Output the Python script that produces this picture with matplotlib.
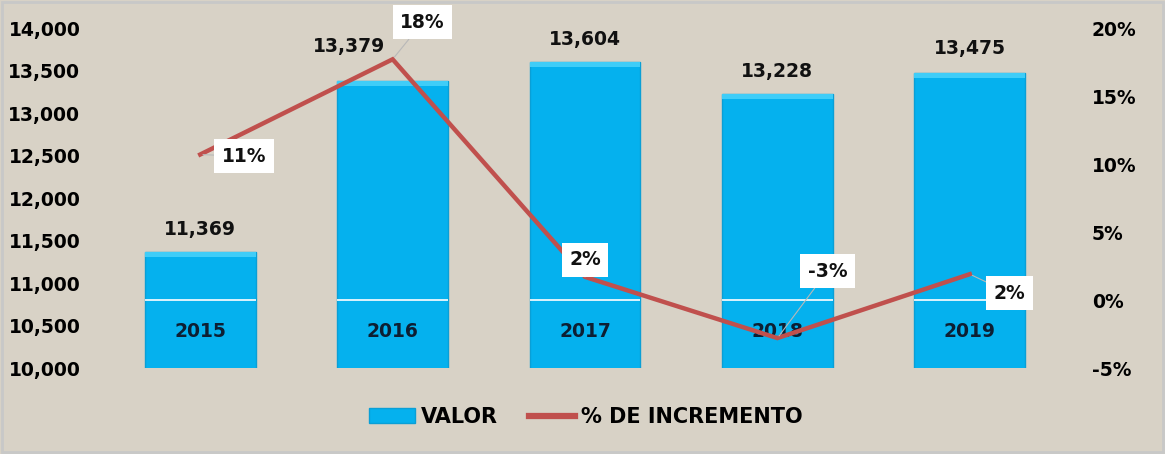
import matplotlib
matplotlib.use("Agg")
import matplotlib.pyplot as plt
from matplotlib.patches import Rectangle, Patch
from matplotlib.lines import Line2D
from matplotlib.ticker import FuncFormatter, MultipleLocator
import matplotlib.transforms as mtransforms

# ---- data ----
years = ["2015", "2016", "2017", "2018", "2019"]
valor = [11369, 13379, 13604, 13228, 13475]
incremento = [0.107, 0.177, 0.017, -0.028, 0.019]
legend_labels = ["VALOR", "% DE INCREMENTO"]

# ---- style ----
BG = "#d8d2c6"
BAR = "#05b1ee"
LINE = "#c0504d"
FS = 13.5
plt.rcParams["font.family"] = ["DejaVu Sans"]
plt.rcParams["font.weight"] = "bold"

fig = plt.figure(figsize=(11.65, 4.54), dpi=100, facecolor=BG)
fig.patches.append(Rectangle((0.002, 0.004), 0.996, 0.992, transform=fig.transFigure,
                             fill=False, edgecolor="#c8c8c8", lw=2))
ax = fig.add_axes([0.0893, 0.1894, 0.8257, 0.7489])
ax.set_facecolor("none")
x = list(range(len(years)))
bars = ax.bar(x, valor, width=0.575, color=BAR, edgecolor="#0a9fd6", linewidth=1.0, zorder=2)
ax.set_xlim(-0.5, len(years) - 0.5)
ax.set_ylim(10000, 14000)
ax.yaxis.set_major_locator(MultipleLocator(500))
ax.yaxis.set_major_formatter(FuncFormatter(lambda v, p: f"{v:,.0f}"))
ax.set_xticks([])
ax.tick_params(axis="y", length=0, pad=17, labelsize=FS)
for s in ax.spines.values():
    s.set_visible(False)

# top highlight of bars (bevel effect)
for b in bars:
    ax.add_patch(Rectangle((b.get_x(), b.get_height() - 60), b.get_width(), 60,
                           color="#3fcdf8", lw=0, zorder=2.5))

# year labels inside bars
trans = mtransforms.blended_transform_factory(ax.transData, ax.transAxes)
for xi, yr in zip(x, years):
    ax.text(xi, 0.106, yr, transform=trans, ha="center", va="center",
            fontsize=FS, fontweight="bold", color="#0d1f33", zorder=5)

# value labels
val_off = [(0, 22), (-44, 34), (0, 22), (0, 22), (0, 24)]
for xi, v, off in zip(x, valor, val_off):
    ax.annotate(f"{v:,}", (xi, v), xytext=off, textcoords="offset pixels",
                ha="center", va="center", fontsize=FS, fontweight="bold",
                color="#111111", zorder=6)

ax2 = ax.twinx()
ax2.set_ylim(-0.05, 0.20)
ax2.yaxis.set_major_locator(MultipleLocator(0.05))
ax2.yaxis.set_major_formatter(FuncFormatter(lambda v, p: f"{v*100:.0f}%"))
ax2.tick_params(axis="y", length=0, pad=18.5, labelsize=FS)
for lab in ax2.get_yticklabels():
    lab.set_fontweight("bold")
for lab in ax.get_yticklabels():
    lab.set_fontweight("bold")
for s in ax2.spines.values():
    s.set_visible(False)

# white zero line across bars
for b in bars:
    ax2.hlines(0, b.get_x(), b.get_x() + b.get_width(), color="white", lw=1.2, zorder=3)

ax2.plot(x, incremento, color=LINE, lw=3.2, zorder=4, solid_joinstyle="miter")

pct_off = [(44, -2), (30, 37), (0, 17), (50, 67), (40, -19)]
for xi, v, off in zip(x, incremento, pct_off):
    ax2.annotate(f"{v:.0%}", (xi, v), xytext=off, textcoords="offset pixels",
                 ha="center", va="center", fontsize=FS, fontweight="bold", color="#111111",
                 bbox=dict(boxstyle="square,pad=0.4", fc="white", ec="none"),
                 arrowprops=dict(arrowstyle="-", color="#b8b8b8", lw=0.8,
                                 shrinkA=0, shrinkB=2),
                 zorder=7)

# legend
handles = [Patch(facecolor=BAR, edgecolor="#0a9fd6"),
           Line2D([0], [0], color=LINE, lw=4.5)]
fig.legend(handles, legend_labels, loc="center", bbox_to_anchor=(0.503, 0.0815), ncol=2,
           frameon=False, handlelength=2.2, handleheight=0.75,
           handletextpad=0.3, columnspacing=1.5,
           prop=dict(weight="bold", size=15))

fig.savefig("out.png", dpi=100, facecolor=BG)
